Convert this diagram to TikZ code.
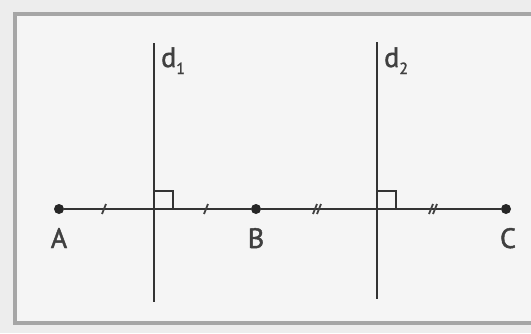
\documentclass[tikz,border=0pt]{standalone}
\usepackage{fontspec}
\setmainfont{PT Sans}
\newfontfamily\labfont[FakeBold=1.6]{PT Sans}
\usetikzlibrary{calc}
\newcommand{\sublab}[1]{\raisebox{-7pt}{\fontsize{16}{16}\selectfont #1}}
\begin{document}
\begin{tikzpicture}[x=1pt,y=-1pt,
  fig/.style={line width=2.5pt,draw=black!80},
  thin fig/.style={line width=1.9pt,draw=black!80},
  dot/.style={circle,fill=black!85,inner sep=0pt,minimum size=10pt},
  lab/.style={font=\labfont\fontsize{28}{28}\selectfont,text=black!75,inner sep=0pt},
  tick/.style={line width=1.8pt,draw=black!75}]
\useasboundingbox (0,0) rectangle (531,333);
\fill[black!7] (0,0) rectangle (531,333);
\fill[blue!3!black!4!white] (15,14) rectangle (531,323);
\draw[line width=3.5pt,draw=black!35] (531,14) -- (15,14) -- (15,323) -- (531,323);
% points
\node[dot] (A) at (59,209) {};
\node[dot] (B) at (256,209) {};
\node[dot] (C) at (506,209) {};
\coordinate (d1t) at (154,43);
\coordinate (d1b) at (154,302);
\coordinate (d2t) at (377,42);
\coordinate (d2b) at (377,299);
\coordinate (H1) at (154,209);
\coordinate (H2) at (377,209);
\draw[fig] (A) -- (B) -- (C);
\draw[fig] (d1t) -- (d1b);
\draw[fig] (d2t) -- (d2b);
% right angles
\draw[thin fig] ($(H1)+(0,-18)$) -- ++(19,0) -- ++(0,18);
\draw[thin fig] ($(H2)+(0,-18)$) -- ++(19,0) -- ++(0,18);
% tick marks
\foreach \x in {104,206}{\draw[tick] (\x-2,214) -- (\x+2,204);}
\foreach \x in {317,433}{\draw[tick] (\x-4,214) -- (\x,204); \draw[tick] (\x,214) -- (\x+4,204);}
% labels
\node[lab,anchor=base] (lA) at (59,248) {A};
\node[lab,anchor=base] (lB) at (256,248) {B};
\node[lab,anchor=base] (lC) at (508,248) {C};
\node[lab,anchor=base west] (ld1) at (161,67) {d\sublab{1}};
\node[lab,anchor=base west] (ld2) at (384,67) {d\sublab{2}};
\end{tikzpicture}
\end{document}
